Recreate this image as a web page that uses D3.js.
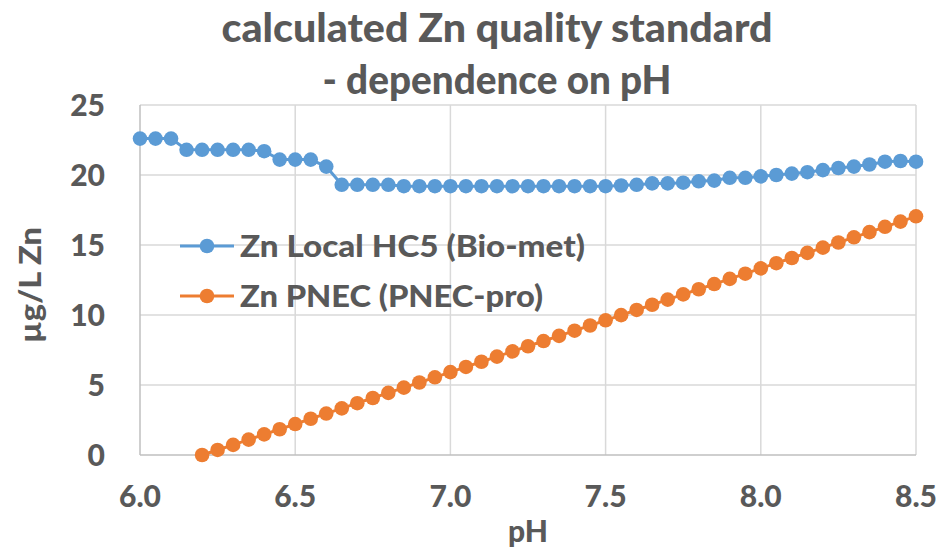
<!DOCTYPE html>
<html>
<head>
<meta charset="utf-8">
<script src="https://cdn.jsdelivr.net/npm/d3@7"></script>
<style>
  html, body { margin: 0; padding: 0; background: #fff; }
  svg { display: block; }
  text { font-family: Lato, "Open Sans", sans-serif; font-weight: 900; fill: #595959; }
</style>
</head>
<body>
<svg id="chart" width="939" height="551"></svg>
<script>
// ---- Data ----
const titleLines = ["calculated Zn quality standard", "- dependence on pH"];
const xTicks = [6.0, 6.5, 7.0, 7.5, 8.0, 8.5];
const yTicks = [0, 5, 10, 15, 20, 25];
const seriesNames = ["Zn Local HC5 (Bio-met)", "Zn PNEC (PNEC-pro)"];

const phBio = [6.00,6.05,6.10,6.15,6.20,6.25,6.30,6.35,6.40,6.45,6.50,6.55,6.60,6.65,6.70,6.75,6.80,6.85,6.90,6.95,
               7.00,7.05,7.10,7.15,7.20,7.25,7.30,7.35,7.40,7.45,7.50,7.55,7.60,7.65,7.70,7.75,7.80,7.85,7.90,7.95,
               8.00,8.05,8.10,8.15,8.20,8.25,8.30,8.35,8.40,8.45,8.50];
const hc5Bio = [22.6,22.6,22.6,21.8,21.8,21.8,21.8,21.8,21.7,21.1,21.1,21.1,20.6,19.3,19.3,19.3,19.3,19.2,19.2,19.2,
                19.2,19.2,19.2,19.2,19.2,19.2,19.2,19.2,19.2,19.2,19.2,19.25,19.3,19.4,19.4,19.45,19.55,19.6,19.8,19.8,
                19.9,20.0,20.1,20.2,20.35,20.5,20.6,20.75,20.95,21.0,20.95];

const phPnec = [6.20,6.25,6.30,6.35,6.40,6.45,6.50,6.55,6.60,6.65,6.70,6.75,6.80,6.85,6.90,6.95,
                7.00,7.05,7.10,7.15,7.20,7.25,7.30,7.35,7.40,7.45,7.50,7.55,7.60,7.65,7.70,7.75,7.80,7.85,7.90,7.95,
                8.00,8.05,8.10,8.15,8.20,8.25,8.30,8.35,8.40,8.45,8.50];
const pnecPro = [0.00,0.36,0.72,1.10,1.47,1.84,2.21,2.59,2.96,3.33,3.70,4.07,4.44,4.81,5.18,5.55,
                 5.92,6.29,6.66,7.03,7.40,7.77,8.14,8.51,8.88,9.25,9.62,9.99,10.36,10.73,11.10,11.47,11.84,12.21,12.58,12.95,
                 13.33,13.70,14.07,14.44,14.81,15.18,15.55,15.92,16.30,16.67,17.05];

// ---- Layout ----
const svg = d3.select("#chart");
const L = 140, R = 916, T = 105, B = 455;
const x = d3.scaleLinear().domain([6.0, 8.5]).range([L, R]);
const y = d3.scaleLinear().domain([0, 25]).range([B, T]);
const colors = ["#5b9bd5", "#ed7d31"];

// Grid
svg.append("g").selectAll("line.h").data(yTicks.filter(d => d > 0)).join("line")
  .attr("x1", L).attr("x2", R).attr("y1", d => y(d)).attr("y2", d => y(d))
  .attr("stroke", "#d9d9d9").attr("stroke-width", 1.5);
svg.append("g").selectAll("line.v").data(xTicks.filter(d => d > 6.0)).join("line")
  .attr("x1", d => x(d)).attr("x2", d => x(d)).attr("y1", T).attr("y2", B)
  .attr("stroke", "#d9d9d9").attr("stroke-width", 1.5);

// Axes lines
svg.append("line").attr("x1", L).attr("x2", L).attr("y1", T).attr("y2", B)
  .attr("stroke", "#bfbfbf").attr("stroke-width", 1.5);
svg.append("line").attr("x1", L).attr("x2", R).attr("y1", B).attr("y2", B)
  .attr("stroke", "#bfbfbf").attr("stroke-width", 1.5);

// Tick labels
svg.append("g").selectAll("text").data(yTicks).join("text")
  .attr("x", 105).attr("y", d => y(d)).attr("dy", "0.36em")
  .attr("text-anchor", "end").attr("font-size", 30).text(d => d);
svg.append("g").selectAll("text").data(xTicks).join("text")
  .attr("x", d => x(d)).attr("y", 496).attr("dy", "0.36em")
  .attr("text-anchor", "middle").attr("font-size", 30).text(d => d.toFixed(1));

// Axis titles
svg.append("text").attr("x", x(7.25)).attr("y", 531).attr("dy", "0.36em")
  .attr("text-anchor", "middle").attr("font-size", 30).text("pH");
svg.append("text").attr("transform", "translate(30,285) rotate(-90)").attr("dy", "0.36em")
  .attr("text-anchor", "middle").attr("font-size", 30)
  .attr("textLength", 116).attr("lengthAdjust", "spacingAndGlyphs").text("µg/L Zn");

// Title
const titleWidths = [551, 349];
svg.append("g").selectAll("text").data(titleLines).join("text")
  .attr("x", 497).attr("y", (d, i) => 28 + i * 52).attr("dy", "0.36em")
  .attr("text-anchor", "middle").attr("font-size", 39)
  .attr("textLength", (d, i) => titleWidths[i]).attr("lengthAdjust", "spacingAndGlyphs")
  .text(d => d);

// Series
const line = d3.line().x(d => x(d[0])).y(d => y(d[1]));
const series = [
  d3.zip(phBio, hc5Bio),
  d3.zip(phPnec, pnecPro)
];
series.forEach((pts, i) => {
  svg.append("path").datum(pts).attr("d", line)
    .attr("fill", "none").attr("stroke", colors[i]).attr("stroke-width", 3);
  svg.append("g").selectAll("circle").data(pts).join("circle")
    .attr("cx", d => x(d[0])).attr("cy", d => y(d[1])).attr("r", 7.3)
    .attr("fill", colors[i]);
});

// Legend
const legendWidths = [345, 303];
seriesNames.forEach((name, i) => {
  const ly = 246 + i * 50;
  svg.append("line").attr("x1", 180).attr("x2", 234).attr("y1", ly).attr("y2", ly)
    .attr("stroke", colors[i]).attr("stroke-width", 3);
  svg.append("circle").attr("cx", 207).attr("cy", ly).attr("r", 7.3).attr("fill", colors[i]);
  svg.append("text").attr("x", 240).attr("y", ly).attr("dy", "0.36em")
    .attr("font-size", 31).attr("textLength", legendWidths[i]).attr("lengthAdjust", "spacingAndGlyphs")
    .text(name);
});
</script>
</body>
</html>
